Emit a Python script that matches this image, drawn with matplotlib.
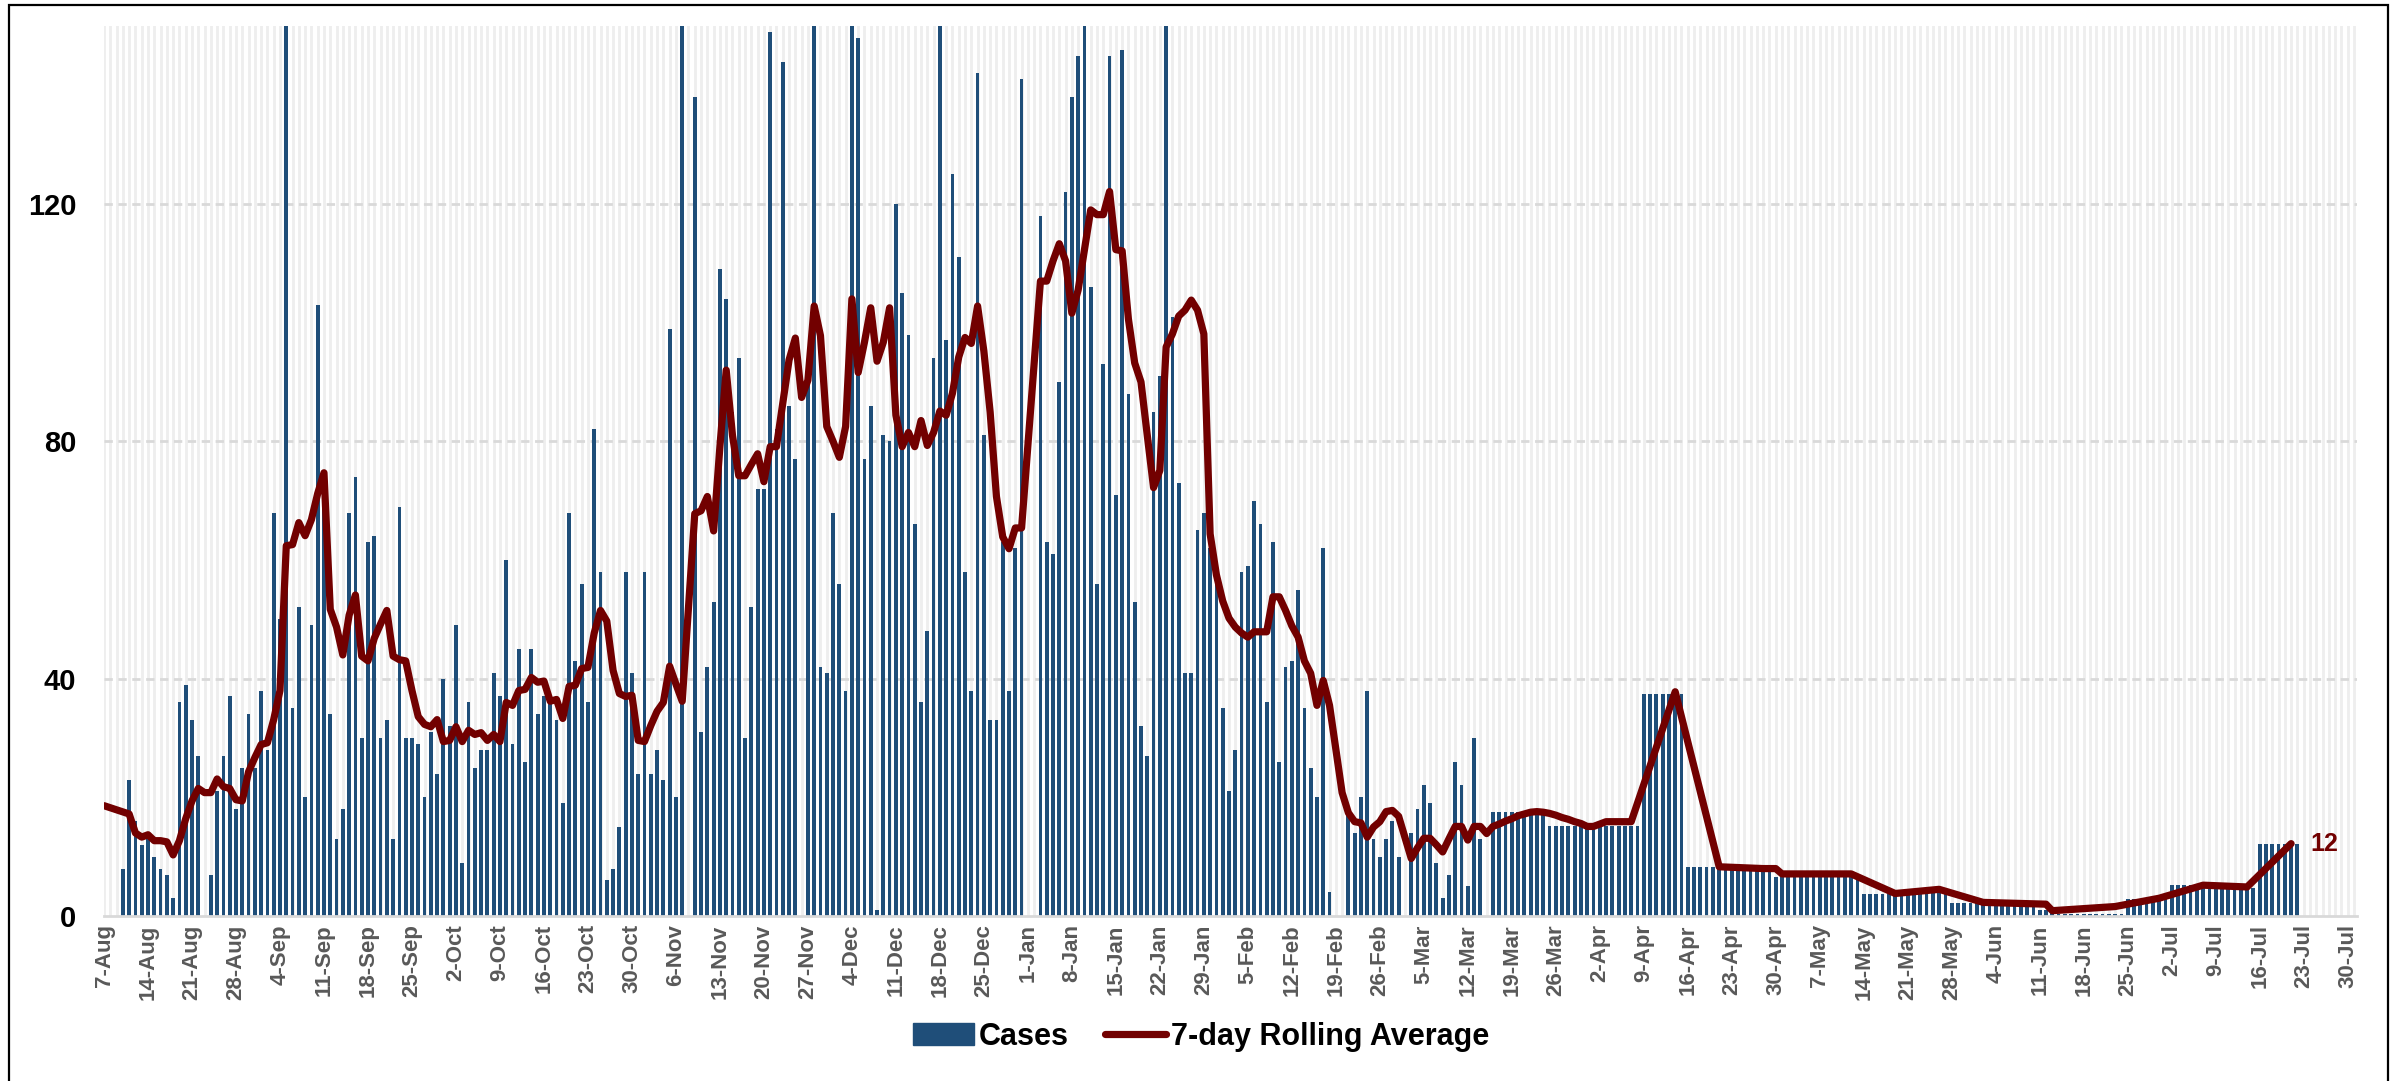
import numpy as np
import matplotlib
matplotlib.use("Agg")
import matplotlib.pyplot as plt
from matplotlib.patches import Patch, Rectangle
from matplotlib.lines import Line2D

# ---------------- data ----------------
# Daily reported cases, one value per day starting 7-Aug (day 0) to 21-Jul (day 348)
cases = [
    0, 0, 0, 8, 23, 16, 12,            # 7-Aug
    13, 10, 8, 7, 3, 36, 39,           # 14-Aug
    33, 27, 0, 7, 21, 27, 37,          # 21-Aug
    18, 25, 34, 25, 38, 28, 68,        # 28-Aug
    50, 160, 35, 52, 20, 49, 103,      # 4-Sep
    74, 34, 13, 18, 68, 74, 30,        # 11-Sep
    63, 64, 30, 33, 13, 69, 30,        # 18-Sep
    30, 29, 20, 31, 24, 40, 32,        # 25-Sep
    49, 9, 36, 25, 28, 28, 41,         # 2-Oct
    37, 60, 29, 45, 26, 45, 34,        # 9-Oct
    37, 36, 33, 19, 68, 43, 56,        # 16-Oct
    36, 82, 58, 6, 8, 15, 58,          # 23-Oct
    41, 24, 58, 24, 28, 23, 99,        # 30-Oct
    20, 160, 0, 138, 31, 42, 53,       # 6-Nov
    109, 104, 85, 94, 30, 52, 72,      # 13-Nov
    72, 149, 82, 144, 86, 77, 0,       # 20-Nov
    91, 160, 42, 41, 68, 56, 38,       # 27-Nov
    160, 148, 77, 86, 1, 81, 80,       # 4-Dec
    120, 105, 98, 66, 36, 48, 94,      # 11-Dec
    160, 97, 125, 111, 58, 38, 142,    # 18-Dec
    81, 33, 33, 63, 38, 62, 141,       # 25-Dec
    0, 0, 118, 63, 61, 90, 122,        # 1-Jan
    138, 145, 160, 106, 56, 93, 145,   # 8-Jan
    71, 146, 88, 53, 32, 27, 85,       # 15-Jan
    91, 160, 101, 73, 41, 41, 65,      # 22-Jan
    68, 62, 57, 35, 21, 28, 58,        # 29-Jan
    59, 70, 66, 36, 63, 26, 42,        # 5-Feb
    43, 55, 35, 25, 20, 62, 4,         # 12-Feb
    0, 0, 17, 14, 20, 38, 13,          # 19-Feb
    10, 13, 16, 10, 0, 14, 18,         # 26-Feb
    22, 19, 9, 3, 7, 26, 22,           # 5-Mar
    5, 30, 13, 0, 17.5, 17.5, 17.5,    # 12-Mar
    17.5, 17.5, 17.5, 17.5, 17.5, 17.5, 15.2,   # 19-Mar
    15.2, 15.2, 15.2, 15.2, 15.2, 15.2, 15.2,   # 26-Mar
    15.2, 15.2, 15.2, 15.2, 15.2, 15.2, 15.2,   # 2-Apr
    37.5, 37.5, 37.5, 37.5, 37.5, 37.5, 37.5,   # 9-Apr
    8.3, 8.3, 8.3, 8.3, 8.3, 8.3, 7.8,          # 16-Apr
    7.8, 7.8, 7.8, 7.8, 7.8, 7.8, 7.8,          # 23-Apr
    6.5, 6.5, 6.5, 6.5, 6.5, 6.5, 6.5,          # 30-Apr
    6.5, 6.5, 6.5, 6.5, 6.5, 6.5, 6.5,          # 7-May
    3.7, 3.7, 3.7, 3.7, 3.7, 3.7, 3.7,          # 14-May
    4.2, 4.2, 4.2, 4.2, 4.2, 4.2, 4.2,          # 21-May
    2.2, 2.2, 2.2, 2.2, 2.2, 2.2, 2.2,          # 28-May
    1.8, 1.8, 1.8, 1.8, 1.8, 1.8, 1.8,          # 4-Jun
    1.0, 1.0, 1.0, 0.4, 0.4, 0.4, 0.4,          # 11-Jun
    0.4, 0.4, 0.4, 0.4, 0.4, 0.4, 0.4,          # 18-Jun
    2.8, 2.8, 2.8, 2.8, 2.8, 2.8, 2.8,          # 25-Jun
    5.2, 5.2, 5.2, 5.2, 5.2, 5.2, 4.7,          # 2-Jul
    4.7, 4.7, 4.7, 4.7, 4.7, 4.7, 4.7,          # 9-Jul
    12.1, 12.1, 12.1, 12.1, 12.1, 12.1, 12.1,   # 16-Jul
]

# 7-day rolling average: day index (from 7-Aug) and value
avg_day = [
    0, 4, 5, 6, 7, 8, 9, 10, 11, 12, 13, 14, 15, 16, 17, 18, 19, 20, 21, 22,
    23, 24, 25, 26, 27, 28, 29, 30, 31, 32, 33, 34, 35, 36, 37, 38, 39, 40,
    41, 42, 43, 44, 45, 46, 47, 48, 49, 50, 51, 52, 53, 54, 55, 56, 57, 58,
    59, 60, 61, 62, 63, 64, 65, 66, 67, 68, 69, 70, 71, 72, 73, 74, 75, 76,
    77, 78, 79, 80, 81, 82, 83, 84, 85, 86, 87, 88, 89, 90, 91, 92, 94, 95,
    96, 97, 98, 99, 100, 101, 102, 103, 104, 105, 106, 107, 108, 109, 110,
    111, 112, 113, 114, 115, 116, 117, 118, 119, 120, 121, 122, 123, 124,
    125, 126, 127, 128, 129, 130, 131, 132, 133, 134, 135, 136, 137, 138,
    139, 140, 141, 142, 143, 144, 145, 146, 149, 150, 151, 152, 153, 154,
    155, 156, 157, 158, 159, 160, 161, 162, 163, 164, 165, 166, 167, 168,
    169, 170, 171, 172, 173, 174, 175, 176, 177, 178, 179, 180, 181, 182,
    183, 184, 185, 186, 187, 188, 189, 190, 191, 192, 193, 194, 195, 196,
    197, 198, 199, 200, 201, 202, 203, 204, 205, 206, 208, 209, 210, 211,
    212, 213, 214, 215, 216, 217, 218, 219, 220, 221, 222, 223, 224, 225,
    226, 227, 228, 229, 230, 231, 232, 233, 234, 235, 236, 237, 238, 239,
    240, 241, 242, 243, 250, 257, 264, 266, 267, 278, 285, 292, 299, 309,
    310, 320, 327, 334, 341, 348,
]
avg_value = [
    18.6, 17.2, 14.0, 13.3, 13.7, 12.7, 12.7, 12.5, 10.3, 12.7, 16.4, 19.4,
    21.5, 20.8, 20.8, 23.1, 21.8, 21.5, 19.6, 19.4, 24.3, 26.7, 28.9, 29.2,
    33.1, 38.0, 62.4, 62.6, 66.3, 64.1, 66.8, 71.2, 74.7, 51.7, 48.7, 44.0,
    50.7, 54.1, 43.8, 43.0, 46.8, 49.2, 51.5, 43.8, 43.2, 43.0, 38.0, 33.6,
    32.3, 31.9, 33.1, 29.4, 29.6, 31.9, 29.4, 31.3, 30.6, 30.9, 29.6, 30.6,
    29.4, 36.0, 35.5, 38.0, 38.2, 40.2, 39.4, 39.6, 36.2, 36.5, 33.3, 38.7,
    38.9, 41.7, 41.9, 47.7, 51.5, 49.7, 41.4, 37.5, 37.0, 37.2, 29.6, 29.4,
    32.1, 34.5, 36.0, 42.1, 39.1, 36.2, 67.8, 68.3, 70.7, 64.9, 79.1, 92.0,
    81.0, 74.2, 74.2, 76.1, 77.9, 73.2, 79.1, 79.1, 86.4, 93.7, 97.4, 87.4,
    90.3, 102.8, 97.8, 82.5, 80.0, 77.3, 82.5, 104.0, 91.6, 96.7, 102.5,
    93.5, 96.7, 102.5, 84.4, 79.1, 81.5, 79.1, 83.5, 79.3, 81.5, 85.1, 84.4,
    88.1, 94.2, 97.5, 96.5, 102.8, 95.2, 84.9, 70.7, 63.9, 61.9, 65.4, 65.4,
    107.0, 107.0, 110.4, 113.3, 110.4, 101.6, 105.5, 112.3, 119.0, 118.2,
    118.2, 122.1, 112.3, 112.1, 100.6, 93.2, 90.0, 81.0, 72.2, 75.1, 95.9,
    98.1, 101.1, 102.1, 103.8, 102.1, 98.1, 64.4, 57.5, 53.1, 50.2, 48.7,
    47.7, 47.0, 47.9, 47.9, 47.9, 53.8, 53.8, 51.5, 48.9, 47.0, 43.0, 40.9,
    35.5, 39.7, 35.5, 28.2, 20.8, 17.4, 15.9, 15.7, 13.3, 15.0, 15.9, 17.6,
    17.8, 16.8, 9.7, 11.5, 13.1, 13.1, 12.0, 10.8, 13.0, 15.1, 15.1, 12.8,
    15.1, 15.1, 13.9, 15.1, 15.5, 16.0, 16.4, 16.9, 17.2, 17.5, 17.6, 17.5,
    17.3, 17.0, 16.6, 16.3, 15.9, 15.6, 15.1, 15.1, 15.5, 15.9, 15.9, 15.9,
    15.9, 15.9, 37.8, 8.3, 8.0, 8.0, 7.1, 7.1, 3.8, 4.5, 2.3, 2.0, 0.9, 1.6,
    3.0, 5.2, 4.9, 12.2,
]

tick_labels = [
    "7-Aug", "14-Aug", "21-Aug", "28-Aug", "4-Sep", "11-Sep", "18-Sep",
    "25-Sep", "2-Oct", "9-Oct", "16-Oct", "23-Oct", "30-Oct", "6-Nov",
    "13-Nov", "20-Nov", "27-Nov", "4-Dec", "11-Dec", "18-Dec", "25-Dec",
    "1-Jan", "8-Jan", "15-Jan", "22-Jan", "29-Jan", "5-Feb", "12-Feb",
    "19-Feb", "26-Feb", "5-Mar", "12-Mar", "19-Mar", "26-Mar", "2-Apr",
    "9-Apr", "16-Apr", "23-Apr", "30-Apr", "7-May", "14-May", "21-May",
    "28-May", "4-Jun", "11-Jun", "18-Jun", "25-Jun", "2-Jul", "9-Jul",
    "16-Jul", "23-Jul", "30-Jul",
]
y_ticks = [0, 40, 80, 120]
last_label = "12"

# ---------------- style ----------------
BAR = "#1f4e79"
LINE = "#720000"
FONT = ["Liberation Sans", "DejaVu Sans"]

fig = plt.figure(figsize=(24.02, 10.81), dpi=100)
ax = fig.add_axes([0.0433, 0.1526, 0.9380, 0.8234])

days = np.arange(len(cases))
ax.set_xlim(0, 358.5)
ax.set_ylim(0, 150)

# light vertical day gridlines
for d in range(0, 359):
    ax.axvline(d, color="#eeeeee", lw=2.0, zorder=0)
# dashed horizontal gridlines
for y in y_ticks[1:]:
    ax.axhline(y, color="#d9d9d9", lw=2.0, ls=(0, (3, 2)), zorder=1)

ax.bar(days, cases, width=0.6, color=BAR, zorder=2)
ax.plot(avg_day, avg_value, color=LINE, lw=5.2, zorder=3,
        solid_joinstyle="round", solid_capstyle="round")

ax.annotate(last_label, (avg_day[-1], avg_value[-1]), xytext=(14, 0),
            textcoords="offset points", ha="left", va="center",
            color=LINE, fontsize=18, fontweight="bold", family=FONT)

for s in ["top", "right", "left"]:
    ax.spines[s].set_visible(False)
ax.spines["bottom"].set_color("#d9d9d9")
ax.spines["bottom"].set_linewidth(2)

ax.set_yticks(y_ticks)
ax.set_yticklabels([str(v) for v in y_ticks], fontsize=21, fontweight="bold",
                   family=FONT, color="black")
ax.set_xticks(np.arange(0, 358, 7))
ax.set_xticklabels(tick_labels, rotation=90, fontsize=16, fontweight="bold",
                   family=FONT, color="#595959")
ax.tick_params(axis="y", length=0, pad=20)
ax.tick_params(axis="x", length=0, pad=6)

handles = [Patch(facecolor=BAR, edgecolor=BAR),
           Line2D([0], [0], color=LINE, lw=5.2, solid_capstyle="round")]
fig.legend(handles, ["Cases", "7-day Rolling Average"], loc="center",
           bbox_to_anchor=(0.5, 0.041), ncol=2, frameon=False,
           prop={"family": FONT, "weight": "bold", "size": 22},
           handlelength=2.0, handleheight=0.75, columnspacing=1.2,
           handletextpad=0.15)

fig.patches.append(Rectangle((9 / 2402, -0.01), (2388 - 9) / 2402, 1.0053,
                             transform=fig.transFigure, fill=False,
                             edgecolor="black", lw=1.6))

fig.savefig("out.png", dpi=100, facecolor="white")
